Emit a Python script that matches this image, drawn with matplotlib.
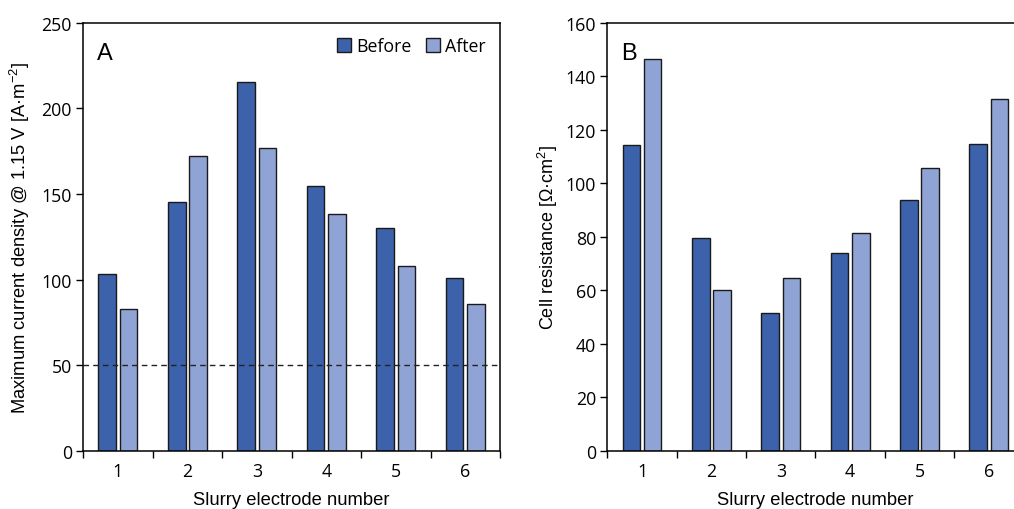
import matplotlib
matplotlib.use("Agg")
import matplotlib.pyplot as plt
import numpy as np

# Slurry electrode numbers
electrodes = ["1", "2", "3", "4", "5", "6"]

# Panel A: maximum current density @ 1.15 V [A m^-2]
current_before = [103.5, 145.3, 215.5, 154.8, 129.9, 100.7]
current_after = [82.7, 172.1, 176.8, 138.1, 108.1, 85.9]
current_threshold = 50

# Panel B: cell resistance [Ohm cm^2]
resistance_before = [114.2, 79.4, 51.4, 73.9, 93.8, 114.7]
resistance_after = [146.4, 60.1, 64.6, 81.5, 105.6, 131.5]

color_before = "#3B62AA"
color_after = "#8FA3D4"
edge = "#1a1a1a"

plt.rcParams["font.family"] = ["Liberation Sans", "DejaVu Sans"]
plt.rcParams["mathtext.fontset"] = "custom"
plt.rcParams["mathtext.rm"] = "Liberation Sans"
plt.rcParams["mathtext.it"] = "Liberation Sans:italic"
plt.rcParams["mathtext.bf"] = "Liberation Sans:bold"
tick_font = ["Open Sans", "DejaVu Sans"]

fig = plt.figure(figsize=(10.14, 5.10), dpi=100)
ax_a = fig.add_axes([0.0819, 0.1143, 0.4112, 0.8390])
ax_b = fig.add_axes([0.5989, 0.1143, 0.4106, 0.8390])

x = np.arange(1, len(electrodes) + 1)
width = 0.255
offset = 0.153


def style_axes(ax, ymax, ystep):
    ax.set_xlim(0.5, len(electrodes) + 0.5)
    ax.set_ylim(0, ymax)
    ax.set_yticks(np.arange(0, ymax + 1, ystep))
    ax.set_xticks(x)
    ax.set_xticklabels(electrodes)
    ax.set_xticks(np.arange(0.5, len(electrodes) + 1, 1), minor=True)
    ax.tick_params(axis="x", which="major", length=0, pad=8)
    ax.tick_params(axis="x", which="minor", length=5, direction="out", width=1)
    ax.tick_params(axis="y", which="major", length=5, direction="out", width=1,
                   pad=3)
    for lab in ax.get_xticklabels() + ax.get_yticklabels():
        lab.set_fontfamily(tick_font)
        lab.set_fontsize(12.8)
    for s in ax.spines.values():
        s.set_linewidth(1.1)
    ax.set_xlabel("Slurry electrode number", fontsize=13.2, labelpad=8)


# Panel A
ax_a.bar(x - offset, current_before, width, color=color_before, edgecolor=edge,
         linewidth=1, label="Before", zorder=2)
ax_a.bar(x + offset, current_after, width, color=color_after, edgecolor=edge,
         linewidth=1, label="After", zorder=2)
ax_a.axhline(current_threshold, color="#222222", linestyle=(0, (4, 3)),
             linewidth=1, zorder=3)
style_axes(ax_a, 250, 50)
ax_a.set_ylabel("Maximum current density @ 1.15 V [A\u00b7m$^{-2}$]",
                fontsize=13.2, labelpad=7)
ax_a.text(0.033, 0.955, "A", transform=ax_a.transAxes, fontsize=17,
          va="top", ha="left")
ax_a.legend(loc="upper right", frameon=False,
            prop={"family": tick_font, "size": 12.8},
            handlelength=0.8, handleheight=0.8, handletextpad=0.3,
            columnspacing=0.8, ncol=2, borderaxespad=0.4,
            bbox_to_anchor=(1.0, 1.0))

# Panel B
ax_b.bar(x - offset, resistance_before, width, color=color_before,
         edgecolor=edge, linewidth=1, zorder=2)
ax_b.bar(x + offset, resistance_after, width, color=color_after,
         edgecolor=edge, linewidth=1, zorder=2)
style_axes(ax_b, 160, 20)
ax_b.set_ylabel("Cell resistance [\u03a9\u00b7cm$^{2}$]", fontsize=13,
                labelpad=4)
ax_b.text(0.033, 0.955, "B", transform=ax_b.transAxes, fontsize=17,
          va="top", ha="left")

fig.savefig("out.png", dpi=100)
